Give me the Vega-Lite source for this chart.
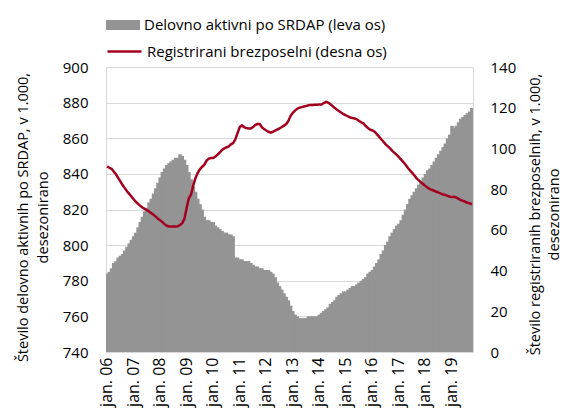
{
  "$schema": "https://vega.github.io/schema/vega-lite/v6.json",
  "width": 367,
  "height": 285,
  "autosize": "none",
  "padding": {"left": 106, "top": 67, "right": 92, "bottom": 63},
  "config": {
    "font": "Open Sans",
    "view": {"stroke": "#d9d9d9", "strokeWidth": 1},
    "axis": {"labelFontSize": 15, "labelColor": "#000000", "titleFontSize": 14.5, "titleFontWeight": "normal", "titleColor": "#000000", "ticks": false, "domain": false, "gridColor": "#d9d9d9", "gridWidth": 1.2},
    "legend": {"labelFontSize": 15, "labelColor": "#000000", "padding": 0, "labelLimit": 0}
  },
  "datasets": {
    "d": [
      {"m":"2006-01","a":784,"r":91.2},{"m":"2006-02","a":785,"r":90.5},{"m":"2006-03","a":787,"r":90},{"m":"2006-04","a":790,"r":88.7},{"m":"2006-05","a":791,"r":87.3},{"m":"2006-06","a":793,"r":85.5},{"m":"2006-07","a":794,"r":83.8},{"m":"2006-08","a":795,"r":82},{"m":"2006-09","a":797,"r":80.5},{"m":"2006-10","a":799,"r":79},{"m":"2006-11","a":801,"r":77.7},{"m":"2006-12","a":803,"r":76.4},
      {"m":"2007-01","a":805,"r":75},{"m":"2007-02","a":807,"r":73.8},{"m":"2007-03","a":810,"r":72.8},{"m":"2007-04","a":813,"r":71.8},{"m":"2007-05","a":816,"r":71},{"m":"2007-06","a":819,"r":70.3},{"m":"2007-07","a":821,"r":69.7},{"m":"2007-08","a":824,"r":69},{"m":"2007-09","a":826,"r":68.2},{"m":"2007-10","a":829,"r":67.4},{"m":"2007-11","a":832,"r":66.5},{"m":"2007-12","a":835,"r":65.5},
      {"m":"2008-01","a":838,"r":64.7},{"m":"2008-02","a":841,"r":63.8},{"m":"2008-03","a":843,"r":62.8},{"m":"2008-04","a":845,"r":62},{"m":"2008-05","a":846,"r":61.7},{"m":"2008-06","a":847,"r":61.6},{"m":"2008-07","a":848,"r":61.6},{"m":"2008-08","a":849,"r":61.6},{"m":"2008-09","a":849,"r":61.8},{"m":"2008-10","a":851,"r":62.4},{"m":"2008-11","a":850,"r":63.3},{"m":"2008-12","a":848,"r":65.5},
      {"m":"2009-01","a":845,"r":71},{"m":"2009-02","a":841,"r":75.5},{"m":"2009-03","a":837,"r":77.5},{"m":"2009-04","a":833,"r":82},{"m":"2009-05","a":830,"r":85.5},{"m":"2009-06","a":826,"r":88},{"m":"2009-07","a":823,"r":89.8},{"m":"2009-08","a":820,"r":91},{"m":"2009-09","a":816,"r":92},{"m":"2009-10","a":814,"r":94},{"m":"2009-11","a":814,"r":95},{"m":"2009-12","a":813,"r":95.3},
      {"m":"2010-01","a":813,"r":95.3},{"m":"2010-02","a":811,"r":96},{"m":"2010-03","a":810,"r":97},{"m":"2010-04","a":809,"r":98},{"m":"2010-05","a":808,"r":99.3},{"m":"2010-06","a":807,"r":100},{"m":"2010-07","a":807,"r":100.5},{"m":"2010-08","a":806,"r":101},{"m":"2010-09","a":806,"r":102},{"m":"2010-10","a":805,"r":102.6},{"m":"2010-11","a":793,"r":104.5},{"m":"2010-12","a":793,"r":107.5},
      {"m":"2011-01","a":792,"r":110.5},{"m":"2011-02","a":792,"r":111.3},{"m":"2011-03","a":791,"r":110.5},{"m":"2011-04","a":791,"r":110},{"m":"2011-05","a":791,"r":109.8},{"m":"2011-06","a":790,"r":109.8},{"m":"2011-07","a":789,"r":110.5},{"m":"2011-08","a":788,"r":111.5},{"m":"2011-09","a":788,"r":112},{"m":"2011-10","a":787,"r":112},{"m":"2011-11","a":787,"r":110.5},{"m":"2011-12","a":786,"r":109.5},
      {"m":"2012-01","a":786,"r":108.8},{"m":"2012-02","a":786,"r":108.2},{"m":"2012-03","a":785,"r":107.8},{"m":"2012-04","a":784,"r":108.2},{"m":"2012-05","a":782,"r":108.8},{"m":"2012-06","a":779,"r":109.3},{"m":"2012-07","a":777,"r":109.8},{"m":"2012-08","a":775,"r":110.5},{"m":"2012-09","a":773,"r":111.2},{"m":"2012-10","a":771,"r":112},{"m":"2012-11","a":769,"r":113.5},{"m":"2012-12","a":766,"r":116},
      {"m":"2013-01","a":763,"r":117.5},{"m":"2013-02","a":761,"r":118.6},{"m":"2013-03","a":760,"r":119.5},{"m":"2013-04","a":759,"r":120},{"m":"2013-05","a":759,"r":120.3},{"m":"2013-06","a":759,"r":120.6},{"m":"2013-07","a":759,"r":120.8},{"m":"2013-08","a":760,"r":121.2},{"m":"2013-09","a":760,"r":121.3},{"m":"2013-10","a":760,"r":121.3},{"m":"2013-11","a":760,"r":121.4},{"m":"2013-12","a":760,"r":121.5},
      {"m":"2014-01","a":761,"r":121.6},{"m":"2014-02","a":762,"r":121.6},{"m":"2014-03","a":763,"r":122.3},{"m":"2014-04","a":764,"r":122.9},{"m":"2014-05","a":765,"r":122.5},{"m":"2014-06","a":767,"r":121.7},{"m":"2014-07","a":768,"r":120.8},{"m":"2014-08","a":769,"r":119.8},{"m":"2014-09","a":771,"r":119},{"m":"2014-10","a":772,"r":118.3},{"m":"2014-11","a":773,"r":117.5},{"m":"2014-12","a":774,"r":116.8},
      {"m":"2015-01","a":774,"r":116.3},{"m":"2015-02","a":775,"r":115.7},{"m":"2015-03","a":776,"r":115.2},{"m":"2015-04","a":777,"r":114.9},{"m":"2015-05","a":777,"r":114.7},{"m":"2015-06","a":778,"r":114.3},{"m":"2015-07","a":779,"r":113.5},{"m":"2015-08","a":780,"r":112.8},{"m":"2015-09","a":781,"r":112.2},{"m":"2015-10","a":782,"r":111},{"m":"2015-11","a":784,"r":110},{"m":"2015-12","a":785,"r":109.2},
      {"m":"2016-01","a":786,"r":108.8},{"m":"2016-02","a":788,"r":108.2},{"m":"2016-03","a":790,"r":107},{"m":"2016-04","a":792,"r":105.8},{"m":"2016-05","a":795,"r":104.5},{"m":"2016-06","a":797,"r":103.3},{"m":"2016-07","a":800,"r":102},{"m":"2016-08","a":802,"r":101},{"m":"2016-09","a":805,"r":100},{"m":"2016-10","a":807,"r":98.8},{"m":"2016-11","a":809,"r":97.8},{"m":"2016-12","a":811,"r":96.8},
      {"m":"2017-01","a":812,"r":95.7},{"m":"2017-02","a":814,"r":94.5},{"m":"2017-03","a":817,"r":93.3},{"m":"2017-04","a":820,"r":92},{"m":"2017-05","a":823,"r":90.5},{"m":"2017-06","a":826,"r":89.2},{"m":"2017-07","a":828,"r":88},{"m":"2017-08","a":830,"r":86.7},{"m":"2017-09","a":832,"r":85.3},{"m":"2017-10","a":834,"r":84.3},{"m":"2017-11","a":836,"r":83.3},{"m":"2017-12","a":838,"r":82.4},
      {"m":"2018-01","a":840,"r":81.5},{"m":"2018-02","a":842,"r":80.7},{"m":"2018-03","a":843,"r":80},{"m":"2018-04","a":845,"r":79.6},{"m":"2018-05","a":847,"r":79.2},{"m":"2018-06","a":849,"r":78.7},{"m":"2018-07","a":851,"r":78.3},{"m":"2018-08","a":853,"r":77.8},{"m":"2018-09","a":855,"r":77.4},{"m":"2018-10","a":857,"r":77.1},{"m":"2018-11","a":860,"r":76.7},{"m":"2018-12","a":862,"r":76.3},
      {"m":"2019-01","a":867,"r":76.1},{"m":"2019-02","a":866,"r":76.2},{"m":"2019-03","a":867,"r":75.8},{"m":"2019-04","a":869,"r":75.2},{"m":"2019-05","a":871,"r":74.6},{"m":"2019-06","a":872,"r":74.2},{"m":"2019-07","a":873,"r":73.8},{"m":"2019-08","a":874,"r":73.3},{"m":"2019-09","a":875,"r":73},{"m":"2019-10","a":877,"r":72.6}
    ]
  },
  "data": {"name": "d"},
  "encoding": {
    "x": {
      "field": "m", "type": "ordinal", "sort": null,
      "scale": {"paddingInner": 0, "paddingOuter": 0},
      "axis": {
        "title": null,
        "values": ["2006-01","2007-01","2008-01","2009-01","2010-01","2011-01","2012-01","2013-01","2014-01","2015-01","2016-01","2017-01","2018-01","2019-01"],
        "labelExpr": "'jan. ' + substring(datum.value, 2, 4)",
        "labelFontSize": 16,
        "labelAngle": -90, "labelAlign": "right", "labelBaseline": "middle", "labelPadding": 5, "grid": false
      }
    }
  },
  "layer": [
    {
      "mark": {"type": "bar", "width": {"band": 1.6}, "opacity": 1, "fillOpacity": 1, "strokeWidth": 0, "clip": true},
      "encoding": {
        "y": {
          "field": "a", "type": "quantitative",
          "scale": {"domain": [740, 900], "zero": false, "nice": false},
          "axis": {
            "values": [740,760,780,800,820,840,860,880,900], "grid": true, "labelPadding": 18,
            "title": ["Število delovno aktivnih po SRDAP, v 1.000,", "desezonirano"],
            "titleAngle": -90, "titleAlign": "center", "titleBaseline": "top", "titleX": -90, "titleY": 150, "titleLineHeight": 20
          }
        },
        "y2": {"datum": 740},
        "color": {
          "datum": "Delovno aktivni po SRDAP (leva os)", "type": "nominal",
          "scale": {"range": ["#949494"]},
          "legend": {"title": null, "orient": "none", "legendX": 0, "legendY": -59, "symbolType": "M-1,-0.3H1V0.3H-1Z", "symbolSize": 1156, "symbolStrokeWidth": 0, "symbolOpacity": 1, "labelOffset": 4}
        }
      }
    },
    {
      "mark": {"type": "line", "strokeWidth": 2.5, "interpolate": "linear"},
      "encoding": {
        "y": {
          "field": "r", "type": "quantitative",
          "scale": {"domain": [0, 140], "nice": false},
          "axis": {
            "orient": "right", "values": [0,20,40,60,80,100,120,140], "grid": false, "labelPadding": 17,
            "title": ["Število registriranih brezposelnih, v 1.000,", "desezonirano"],
            "titleAngle": -90, "titleAlign": "center", "titleBaseline": "top", "titleX": 55, "titleY": 147, "titleLineHeight": 19
          }
        },
        "stroke": {
          "datum": "Registrirani brezposelni (desna os)", "type": "nominal",
          "scale": {"range": ["#a3001f"]},
          "legend": {"title": null, "orient": "none", "legendX": 0, "legendY": -34, "symbolType": "M-1,0H1", "symbolSize": 1156, "symbolStrokeWidth": 2.5, "labelOffset": 4}
        }
      }
    }
  ],
  "resolve": {"scale": {"y": "independent"}}
}
